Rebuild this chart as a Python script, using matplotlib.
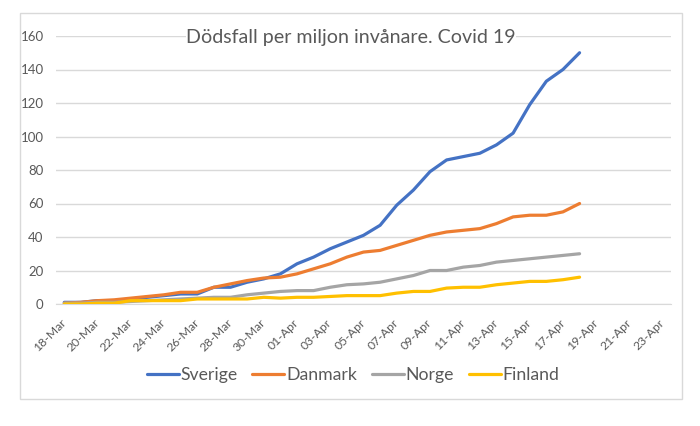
import matplotlib
matplotlib.use("Agg")
import matplotlib.pyplot as plt
import matplotlib.dates as mdates
import pandas as pd

START_DATE = "2020-03-18"
END_DATE = "2020-04-23"

sverige = [1, 1, 2, 2, 3, 4, 5, 6, 6, 10, 10, 13, 15, 18, 24, 28,
           33, 37, 41, 47, 59, 68, 79, 86, 88, 90, 95, 102, 119, 133, 140, 150]
danmark = [0.5, 1, 2, 2.5, 3.5, 4.5, 5.5, 7, 7, 10, 12, 14, 15.5, 16, 18, 21,
           24, 28, 31, 32, 35, 38, 41, 43, 44, 45, 48, 52, 53, 53, 55, 60]
norge = [0.5, 0.5, 1, 1, 1.5, 2, 2.5, 3, 3.5, 4, 4, 5.5, 6.5, 7.5, 8, 8,
         10, 11.5, 12, 13, 15, 17, 20, 20, 22, 23, 25, 26, 27, 28, 29, 30]
finland = [0, 0, 0.5, 0.5, 2, 2, 2, 2, 3, 3, 3, 3, 4, 3.5, 4, 4,
           4.5, 5, 5, 5, 6.5, 7.5, 7.5, 9.5, 10, 10, 11.5, 12.5, 13.5, 13.5, 14.5, 16]

series = [
    ("Sverige", sverige, "#4472C4"),
    ("Danmark", danmark, "#ED7D31"),
    ("Norge", norge, "#A5A5A5"),
    ("Finland", finland, "#FFC000"),
]

plt.rcParams["font.family"] = ["Lato", "DejaVu Sans"]
TEXT = "#595959"
GRID = "#d9d9d9"

dates = pd.date_range(START_DATE, periods=len(sverige), freq="D")

fig = plt.figure(figsize=(7, 4.26), dpi=100)
fig.patches.append(plt.Rectangle((20 / 700, 1 - 399 / 426), 662 / 700, 386 / 426,
                                 transform=fig.transFigure, fill=False,
                                 edgecolor=GRID, linewidth=1))
ax = fig.add_axes([56 / 700, 1 - 304 / 426, 615 / 700, 268 / 426])

for name, vals, color in series:
    ax.plot(dates, vals, color=color, linewidth=2.3, label=name,
            solid_capstyle="round", zorder=3)

start = pd.Timestamp(START_DATE)
end = pd.Timestamp(END_DATE)
ax.set_xlim(start - pd.Timedelta(hours=12), end + pd.Timedelta(hours=12))
ax.set_ylim(0, 160)
ax.set_yticks(range(0, 161, 20))
ax.set_xticks(pd.date_range(start, end, freq="2D"))
ax.xaxis.set_major_formatter(mdates.DateFormatter("%d-%b"))

ax.grid(axis="y", color=GRID, linewidth=1)
ax.set_axisbelow(True)
for side in ["top", "right", "left"]:
    ax.spines[side].set_visible(False)
ax.spines["bottom"].set_color(GRID)
ax.tick_params(axis="y", length=0, pad=9, labelsize=9.5, labelcolor=TEXT)
ax.tick_params(axis="x", length=0, pad=12, labelsize=8.8, labelcolor=TEXT)
for lbl in ax.get_xticklabels():
    lbl.set_rotation(45)
    lbl.set_ha("right")
    lbl.set_va("center")
    lbl.set_rotation_mode("anchor")

fig.text(351 / 700, 1 - 37 / 426, "Dödsfall per miljon invånare. Covid 19",
         ha="center", va="center", fontsize=14.1, color=TEXT,
         bbox=dict(facecolor="white", edgecolor="none", pad=0))

fig.legend(loc="center", bbox_to_anchor=(353 / 700, 1 - 375 / 426), ncol=4,
           frameon=False, fontsize=12.7, labelcolor=TEXT, handlelength=1.8,
           handletextpad=0.1, columnspacing=0.85)

fig.savefig("out.png", dpi=100)
